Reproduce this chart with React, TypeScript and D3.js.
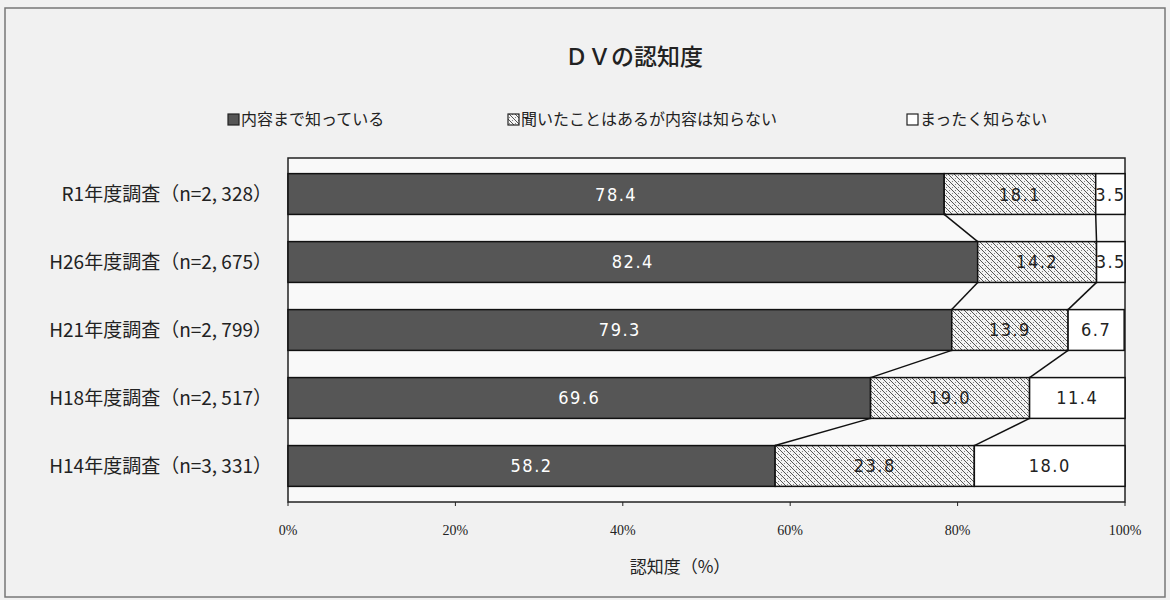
import * as React from 'react';
import * as d3 from 'd3';

const categories = [
  'R1年度調査（n=2, 328）',
  'H26年度調査（n=2, 675）',
  'H21年度調査（n=2, 799）',
  'H18年度調査（n=2, 517）',
  'H14年度調査（n=3, 331）',
];
const seriesNames = ['内容まで知っている', '聞いたことはあるが内容は知らない', 'まったく知らない'];
const known = [78.4, 82.4, 79.3, 69.6, 58.2];
const heard = [18.1, 14.2, 13.9, 19.0, 23.8];
const unknown = [3.5, 3.5, 6.7, 11.4, 18.0];
const ticks = [0, 20, 40, 60, 80, 100];

const W = 1170;
const H = 600;
const plot = { left: 288, right: 1125, top: 158, bottom: 502 };

const fills = ['#565656', 'url(#hatch)', '#ffffff'];
const textFills = ['#ffffff', '#222', '#222'];
const jp = '"Noto Sans CJK JP", sans-serif';
const num = '"DejaVu Sans", sans-serif';

const App: React.FC = () => {
  const x = d3.scaleLinear().domain([0, 100]).range([plot.left, plot.right]).clamp(true);
  const y = d3.scaleBand<string>().domain(categories).range([plot.top, plot.bottom])
    .paddingInner(0.4).paddingOuter(0.23);

  const rows = categories.map((c, i) => ({ cat: c, a: known[i], b: heard[i], c: unknown[i] }));
  const stack = d3.stack<any>().keys(['a', 'b', 'c'])(rows);

  // connector lines between adjacent bars at the segment boundaries
  const connectors: { x1: number; y1: number; x2: number; y2: number }[] = [];
  for (let i = 0; i < categories.length - 1; i++) {
    for (let k = 0; k < 2; k++) {
      connectors.push({
        x1: x(stack[k][i][1]),
        y1: y(categories[i])! + y.bandwidth(),
        x2: x(stack[k][i + 1][1]),
        y2: y(categories[i + 1])!,
      });
    }
  }

  const legendX = [228, 508, 907];

  return (
    <svg width={W} height={H} style={{ position: 'absolute', left: 0, top: 0, background: '#f1f1f1' }}>
      <defs>
        <pattern id="hatch" width="6" height="6" patternUnits="userSpaceOnUse">
          <rect width="6" height="6" fill="#f4f4f4" />
          <path d="M0,0 L6,6 M-1,5 L1,7 M5,-1 L7,1" stroke="#555" strokeWidth="1" />
          <rect x="4" y="1" width="1" height="1" fill="#888" />
          <rect x="1" y="4" width="1" height="1" fill="#888" />
        </pattern>
        <clipPath id="plotClip">
          <rect x={plot.left} y={plot.top} width={plot.right - plot.left} height={plot.bottom - plot.top} />
        </clipPath>
      </defs>

      <rect x={5} y={8} width={1160} height={589} fill="none" stroke="#777" strokeWidth={1.5} />

      <text x={634} y={65} textAnchor="middle" fontFamily={jp} fontSize={23} fontWeight={500} fill="#222">
        ＤＶの認知度
      </text>

      {seriesNames.map((s, i) => (
        <g key={s} transform={`translate(${legendX[i]},125)`}>
          <rect x={0} y={-11} width={11} height={11} fill={fills[i]} stroke="#222" strokeWidth={1.2} />
          <text x={13} y={0} fontFamily={jp} fontSize={16} fill="#222">{s}</text>
        </g>
      ))}

      <rect x={plot.left} y={plot.top} width={plot.right - plot.left} height={plot.bottom - plot.top}
        fill="#f9f9f9" stroke="#222" strokeWidth={1.5} />

      {stack.map((layer, k) => (
        <g key={k}>
          {layer.map((d, i) => (
            <rect key={i} x={x(d[0])} y={y(categories[i])} width={x(d[1]) - x(d[0])} height={y.bandwidth()}
              fill={fills[k]} stroke="#111" strokeWidth={1.5} />
          ))}
        </g>
      ))}

      {connectors.map((l, i) => (
        <line key={i} x1={l.x1} y1={l.y1} x2={l.x2} y2={l.y2} stroke="#111" strokeWidth={1.5} />
      ))}

      <g clipPath="url(#plotClip)">
        {stack.map((layer, k) =>
          layer.map((d, i) => (
            <text key={`${k}-${i}`} x={(x(d[0]) + x(Math.min(d[1], 100))) / 2} y={y(categories[i])! + y.bandwidth() / 2}
              dy="0.36em" textAnchor="middle" fontFamily={num} fontSize={18} letterSpacing={1.5}
              style={{ fontStretch: 'condensed' }} fill={textFills[k]}>
              {d.data[['a', 'b', 'c'][k]].toFixed(1)}
            </text>
          )),
        )}
      </g>

      {categories.map((c) => (
        <text key={c} x={272} y={y(c)! + y.bandwidth() / 2} dy="0.36em" textAnchor="end"
          fontFamily={jp} fontSize={19} fill="#222">
          {c}
        </text>
      ))}

      {ticks.map((t) => (
        <g key={t}>
          <line x1={x(t)} x2={x(t)} y1={plot.bottom} y2={plot.bottom + 4} stroke="#222" />
          <text x={x(t)} y={535} textAnchor="middle" fontFamily='"Liberation Serif", serif' fontSize={14} fill="#222">
            {t}%
          </text>
        </g>
      ))}

      <text x={680} y={573} textAnchor="middle" fontFamily={jp} fontSize={17} fill="#222">
        認知度（%）
      </text>
    </svg>
  );
};

export default App;
